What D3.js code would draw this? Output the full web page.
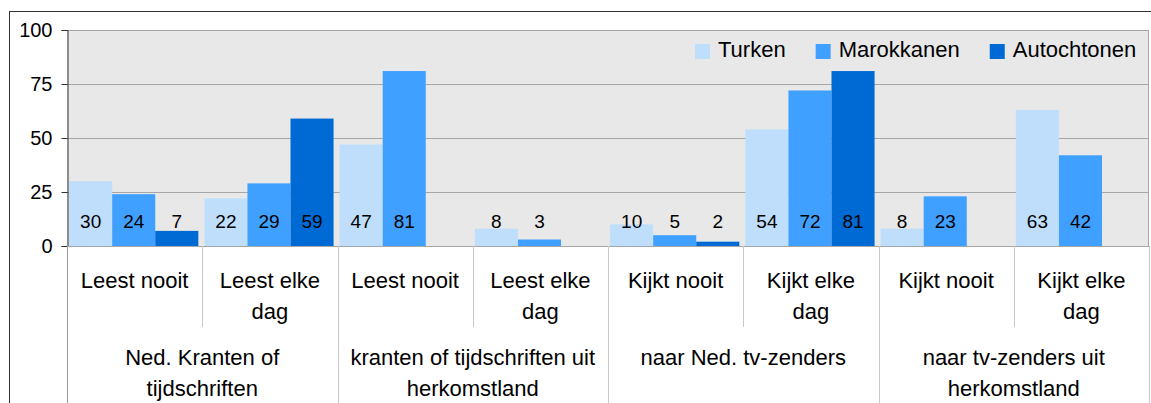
<!DOCTYPE html>
<html>
<head>
<meta charset="utf-8">
<script src="https://cdn.jsdelivr.net/npm/d3@7"></script>
<style>
  body { margin: 0; background: #fff; }
  svg { display: block; font-family: "Liberation Sans", Arial, sans-serif; }
</style>
</head>
<body>
<div id="chart"></div>
<script>
// Sub-categories (first x-axis row) and their groups (second row)
const categories = ['Leest nooit', 'Leest elke dag', 'Leest nooit', 'Leest elke dag',
                    'Kijkt nooit', 'Kijkt elke dag', 'Kijkt nooit', 'Kijkt elke dag'];
const groups = ['Ned. Kranten of tijdschriften', 'kranten of tijdschriften uit herkomstland',
                'naar Ned. tv-zenders', 'naar tv-zenders uit herkomstland'];
const series = ['Turken', 'Marokkanen', 'Autochtonen'];
const turken = [30, 22, 47, 8, 10, 54, 8, 63];
const marokkanen = [24, 29, 81, 3, 5, 72, 23, 42];
const autochtonen = [7, 59, null, null, 2, 81, null, null];
const yTicks = [0, 25, 50, 75, 100];
const colors = ['#bfdefc', '#40a0ff', '#006ad4'];

const width = 1151, height = 403;
const plot = { left: 67, right: 1149, top: 30, bottom: 246 };

const values = [turken, marokkanen, autochtonen];

const svg = d3.select('#chart').append('svg')
    .attr('width', width)
    .attr('height', height);

// Outer frame (cut off at right and bottom)
svg.append('rect')
    .attr('x', 9.5).attr('y', 11.5)
    .attr('width', 1300).attr('height', 500)
    .attr('fill', 'none')
    .attr('stroke', '#333');

// Scales
const idx = d3.range(categories.length);
const x0 = d3.scaleBand().domain(idx).range([plot.left, plot.right]);
const x1 = d3.scaleBand().domain(series)
    .range([0, x0.bandwidth()])
    .paddingOuter(0.07).align(0.35);
const y = d3.scaleLinear().domain([0, 100]).range([plot.bottom, plot.top]);
const color = d3.scaleOrdinal().domain(series).range(colors);

// Plot background
svg.append('rect')
    .attr('x', plot.left).attr('y', plot.top)
    .attr('width', plot.right - plot.left)
    .attr('height', plot.bottom - plot.top)
    .attr('fill', '#e8e8e8');

// Gridlines
svg.append('g')
    .selectAll('line')
    .data(yTicks.filter(t => t > 0))
    .join('line')
    .attr('x1', plot.left).attr('x2', plot.right)
    .attr('y1', d => Math.round(y(d)) + 0.5)
    .attr('y2', d => Math.round(y(d)) + 0.5)
    .attr('stroke', '#a6a6a6');

// Right border of plot
svg.append('line')
    .attr('x1', plot.right - 0.5).attr('x2', plot.right - 0.5)
    .attr('y1', plot.top).attr('y2', plot.bottom)
    .attr('stroke', '#a6a6a6');

// Bars
const barData = [];
series.forEach((s, si) => {
    values[si].forEach((v, i) => {
        if (v !== null) barData.push({ s, i, v });
    });
});

svg.append('g')
    .selectAll('rect')
    .data(barData)
    .join('rect')
    .attr('x', d => x0(d.i) + x1(d.s))
    .attr('y', d => y(d.v))
    .attr('width', x1.bandwidth())
    .attr('height', d => y(0) - y(d.v))
    .attr('fill', d => color(d.s));

// Data labels, all at the same height
svg.append('g')
    .selectAll('text')
    .data(barData)
    .join('text')
    .attr('x', d => x0(d.i) + x1(d.s) + x1.bandwidth() / 2)
    .attr('y', 228)
    .attr('text-anchor', 'middle')
    .style('font-size', '19px')
    .attr('fill', '#000')
    .text(d => d.v);

// Y axis
const yAxis = svg.append('g')
    .attr('transform', `translate(${plot.left + 0.5},0)`)
    .call(d3.axisLeft(y).tickValues(yTicks).tickSize(6).tickPadding(9));
yAxis.select('.domain').attr('stroke', '#333');
yAxis.selectAll('.tick line').attr('stroke', '#333');
yAxis.selectAll('.tick text')
    .style('font-size', '20px')
    .style('font-family', '"Liberation Sans", Arial, sans-serif')
    .attr('fill', '#000');

// X axis baseline
svg.append('line')
    .attr('x1', plot.left).attr('x2', plot.right)
    .attr('y1', plot.bottom + 0.5).attr('y2', plot.bottom + 0.5)
    .attr('stroke', '#a6a6a6');

// X axis separators: short between sub-categories, long between groups
const sepX = d3.range(categories.length + 1).map(i =>
    i < categories.length ? x0(i) : plot.right);
svg.append('g')
    .selectAll('line')
    .data(sepX.map((x, i) => ({ x, i })))
    .join('line')
    .attr('x1', d => Math.round(d.x) + 0.5)
    .attr('x2', d => Math.round(d.x) + 0.5)
    .attr('y1', plot.bottom)
    .attr('y2', d => d.i % 2 === 0 ? height : 327)
    .attr('stroke', d => d.i === 0 ? '#999' : '#c8c8c8');

// Wrap text helper for axis labels
function wrapLabel(sel, text, cx, y0, lineH, maxW) {
    const words = text.split(' ');
    const t = sel.append('text')
        .attr('text-anchor', 'middle')
        .style('font-size', '22px')
        .attr('fill', '#000');
    let line = [];
    let tspan = t.append('tspan').attr('x', cx).attr('y', y0);
    let n = 0;
    words.forEach(w => {
        line.push(w);
        tspan.text(line.join(' '));
        if (tspan.node().getComputedTextLength() > maxW && line.length > 1) {
            line.pop();
            tspan.text(line.join(' '));
            line = [w];
            n++;
            tspan = t.append('tspan').attr('x', cx).attr('y', y0 + n * lineH).text(w);
        }
    });
}

const labels = svg.append('g');
categories.forEach((c, i) => {
    wrapLabel(labels, c, x0(i) + x0.bandwidth() / 2, 288, 31, x0.bandwidth() - 10);
});
groups.forEach((g, i) => {
    wrapLabel(labels, g, x0(i * 2) + x0.bandwidth(), 365, 31, x0.bandwidth() * 2 - 10);
});

// Legend
const legend = svg.append('g');
let lx = 695;
series.forEach(s => {
    legend.append('rect')
        .attr('x', lx).attr('y', 44)
        .attr('width', 15).attr('height', 15)
        .attr('fill', color(s));
    const t = legend.append('text')
        .attr('x', lx + 23).attr('y', 57)
        .style('font-size', '22px')
        .attr('fill', '#000')
        .text(s);
    lx += 23 + t.node().getComputedTextLength() + 30;
});
</script>
</body>
</html>
